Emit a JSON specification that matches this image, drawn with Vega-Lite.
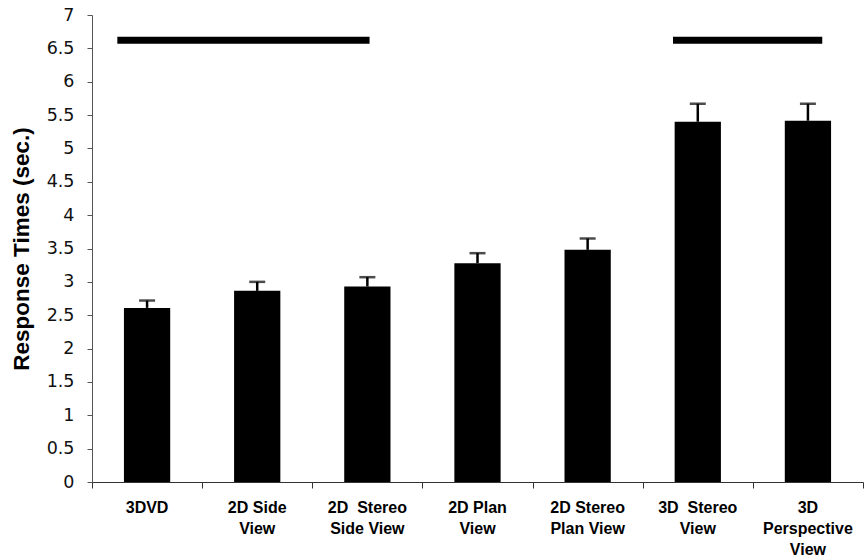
{
  "$schema": "https://vega.github.io/schema/vega-lite/v6.json",
  "autosize": {"type": "none"},
  "padding": {"left": 92, "top": 15, "right": 3, "bottom": 78},
  "width": 771,
  "height": 467,
  "background": "white",
  "config": {
    "view": {"stroke": null},
    "font": "Liberation Sans",
    "axis": {"grid": false}
  },
  "datasets": {
    "conds": [
      {"condition": "3DVD", "mean": 2.61, "upper": 2.72},
      {"condition": "2D Side|View", "mean": 2.865, "upper": 3.0},
      {"condition": "2D\u00a0 Stereo|Side View", "mean": 2.93, "upper": 3.07},
      {"condition": "2D Plan|View", "mean": 3.28, "upper": 3.43},
      {"condition": "2D Stereo|Plan View", "mean": 3.48, "upper": 3.65},
      {"condition": "3D\u00a0 Stereo|View", "mean": 5.4, "upper": 5.67},
      {"condition": "3D|Perspective|View", "mean": 5.415, "upper": 5.67}
    ],
    "lines": [
      {"start": 0.23, "end": 2.52, "mean": 6.62},
      {"start": 5.275, "end": 6.63, "mean": 6.62}
    ]
  },
  "encoding": {
    "y": {
      "field": "mean",
      "type": "quantitative",
      "scale": {"domain": [0, 7], "nice": false},
      "axis": {
        "title": "Response Times (sec.)",
        "titleFont": "Liberation Sans",
        "titleFontSize": 22.5,
        "titleFontWeight": "bold",
        "titleColor": "#000",
        "titlePadding": 13,
        "values": [0, 0.5, 1, 1.5, 2, 2.5, 3, 3.5, 4, 4.5, 5, 5.5, 6, 6.5, 7],
        "labelExpr": "'' + datum.value",
        "labelFont": "DejaVu Sans",
        "labelFontSize": 17.5,
        "labelColor": "#111",
        "labelPadding": 13,
        "labelOverlap": false,
        "labelFlush": false,
        "tickSize": 5,
        "tickColor": "#555",
        "domainColor": "#555"
      }
    }
  },
  "layer": [
    {
      "data": {"name": "conds"},
      "mark": {"type": "bar", "color": "#000"},
      "encoding": {
        "x": {
          "field": "condition",
          "type": "nominal",
          "sort": null,
          "scale": {"paddingInner": 0.58, "paddingOuter": 0.29},
          "axis": {
            "orient": "bottom",
            "title": null,
            "domain": false,
            "ticks": false,
            "labelAngle": 0,
            "labelExpr": "split(datum.label, '|')",
            "labelFont": "Liberation Sans",
            "labelFontWeight": "bold",
            "labelFontSize": 16,
            "labelColor": "#000",
            "labelPadding": 17,
            "labelLineHeight": 21,
            "labelBaseline": "top"
          }
        }
      }
    },
    {
      "data": {"name": "conds"},
      "mark": {"type": "rule", "color": "#000", "strokeWidth": 2.5},
      "encoding": {
        "x": {
          "field": "condition",
          "type": "nominal",
          "sort": null,
          "scale": {"paddingInner": 0.58, "paddingOuter": 0.29},
          "axis": null
        },
        "y2": {"field": "upper"}
      }
    },
    {
      "data": {"name": "conds"},
      "mark": {"type": "tick", "color": "#000", "size": 16, "thickness": 2.5},
      "encoding": {
        "x": {
          "field": "condition",
          "type": "nominal",
          "sort": null,
          "scale": {"paddingInner": 0.58, "paddingOuter": 0.29},
          "axis": null
        },
        "y": {"field": "upper", "type": "quantitative"}
      }
    },
    {
      "data": {"name": "lines"},
      "mark": {"type": "rule", "color": "#000", "strokeWidth": 7, "strokeCap": "butt"},
      "encoding": {
        "x": {
          "field": "start",
          "type": "quantitative",
          "scale": {"domain": [0, 7], "nice": false},
          "axis": {
            "orient": "bottom",
            "title": null,
            "values": [0, 1, 2, 3, 4, 5, 6, 7],
            "labels": false,
            "tickSize": 6,
            "tickColor": "#333",
            "domainColor": "#333"
          }
        },
        "x2": {"field": "end"}
      }
    }
  ],
  "resolve": {"scale": {"x": "independent"}, "axis": {"x": "independent"}}
}
